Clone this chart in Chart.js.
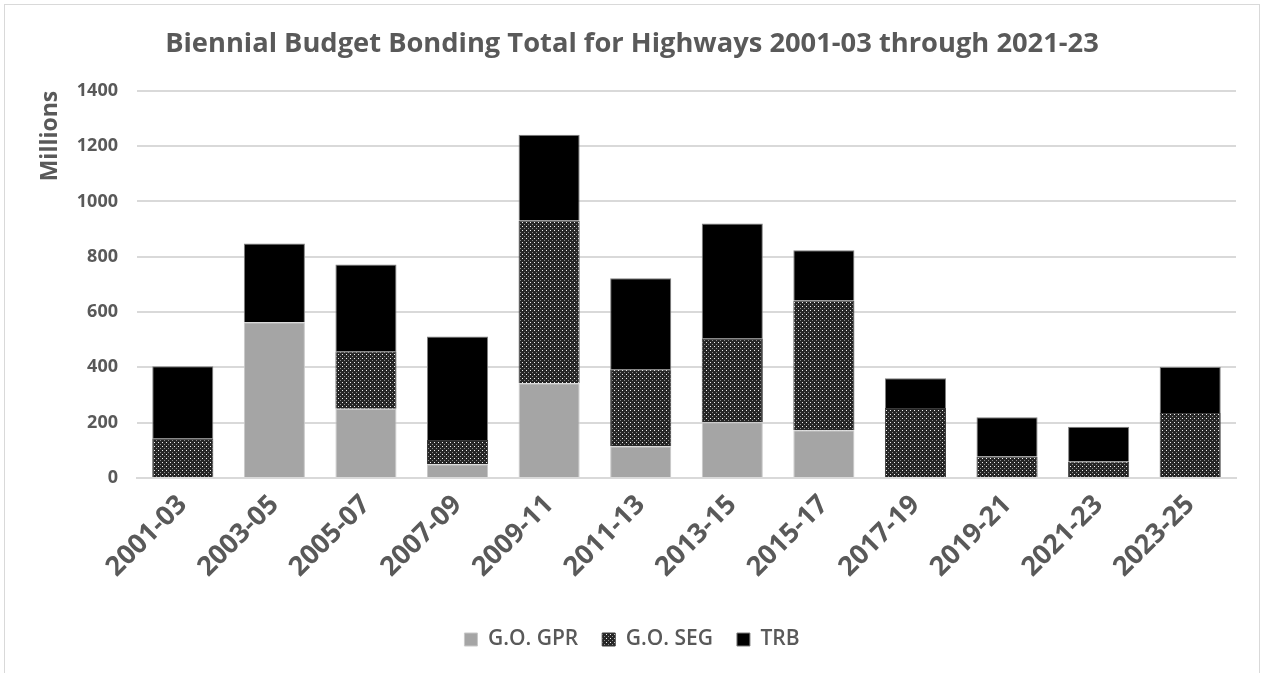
<!DOCTYPE html>
<html>
<head>
<meta charset="utf-8">
<script src="https://cdn.jsdelivr.net/npm/chart.js@4"></script>
<style>
  body { margin: 0; background: #fff; overflow: hidden; }
  #wrap {
    position: absolute; left: 4px; top: 4px; width: 1256px; height: 675px;
    border: 1px solid #d9d9d9; box-sizing: border-box;
  }
</style>
</head>
<body>
<div id="wrap"><canvas id="chart"></canvas></div>
<script>
const periods = ['2001-03', '2003-05', '2005-07', '2007-09', '2009-11', '2011-13',
                 '2013-15', '2015-17', '2017-19', '2019-21', '2021-23', '2023-25'];
const goGpr = [0, 563, 250, 50, 343, 115, 202, 173, 0, 0, 0, 0];
const goSeg = [144, 0, 208, 87, 588, 278, 303, 469, 253, 78, 60, 235];
const trb   = [260, 285, 314, 375, 310, 329, 415, 181, 108, 142, 125, 166];

const GREY = '#595959';

// dotted dark fill like the Excel pattern
const makePattern = function () {
    const c = document.createElement('canvas');
    c.width = 4;
    c.height = 4;
    const g = c.getContext('2d');
    g.fillStyle = '#262626';
    g.fillRect(0, 0, 4, 4);
    g.fillStyle = '#f2f2f2';
    g.fillRect(1, 1, 1, 1);
    g.fillStyle = '#8c8c8c';
    g.fillRect(3, 3, 1, 1);
    return g.createPattern(c, 'repeat');
};
const segFill = makePattern();

const ctx = document.getElementById('chart').getContext('2d');
const chart = new Chart(ctx, {
    type: 'bar',
    data: {
        labels: periods,
        datasets: [
            { label: 'G.O. GPR', data: goGpr, backgroundColor: '#a5a5a5', borderColor: '#c8c8c8', borderWidth: 1 },
            { label: 'G.O. SEG', data: goSeg, backgroundColor: segFill, borderColor: '#3a3a3a', borderWidth: 1 },
            { label: 'TRB', data: trb, backgroundColor: '#000000', borderColor: '#7f7f7f', borderWidth: 1 }
        ]
    },
    options: {
        responsive: true,
        maintainAspectRatio: false,
        animation: false,
        datasets: { bar: { categoryPercentage: 0.667, barPercentage: 1 } },
        layout: { padding: { left: 0, right: 0, top: 0, bottom: 18 } },
        plugins: {
            title: {
                display: true,
                text: 'Biennial Budget Bonding Total for Highways 2001-03 through 2021-23',
                color: GREY,
                font: { family: 'Open Sans', size: 27.3, weight: 'bold' },
                padding: { top: 23, bottom: 30 }
            },
            legend: {
                position: 'bottom',
                labels: {
                    color: GREY,
                    font: { family: 'Open Sans', size: 21, weight: '600' },
                    boxWidth: 13,
                    boxHeight: 13,
                    padding: 24
                }
            },
            tooltip: { enabled: false }
        },
        scales: {
            x: {
                stacked: true,
                grid: { display: false },
                border: { color: '#d9d9d9', width: 2 },
                afterFit: function (scale) { scale.height = 127; },
                ticks: {
                    color: GREY,
                    font: { family: 'Open Sans', size: 27, weight: 'bold' },
                    minRotation: 45,
                    maxRotation: 45
                }
            },
            y: {
                stacked: true,
                min: 0,
                max: 1400,
                afterFit: function (scale) { scale.width = 132; },
                ticks: {
                    stepSize: 200,
                    color: GREY,
                    padding: 19,
                    font: { family: 'Open Sans', size: 18, weight: 'bold' },
                    callback: v => v
                },
                grid: { color: '#d9d9d9', lineWidth: 2, drawTicks: false },
                border: { display: false },
                title: {
                    display: true,
                    text: 'Millions',
                    align: 'end',
                    color: GREY,
                    font: { family: 'Open Sans', size: 23, weight: 'bold' },
                    padding: { top: 32, bottom: 0 }
                }
            },
            // empty right-hand axis, only keeps the gap on the right
            spacer: {
                type: 'linear',
                position: 'right',
                display: true,
                afterFit: function (scale) { scale.width = 23; },
                ticks: { display: false },
                grid: { display: false },
                border: { display: false }
            }
        }
    }
});
</script>
</body>
</html>
